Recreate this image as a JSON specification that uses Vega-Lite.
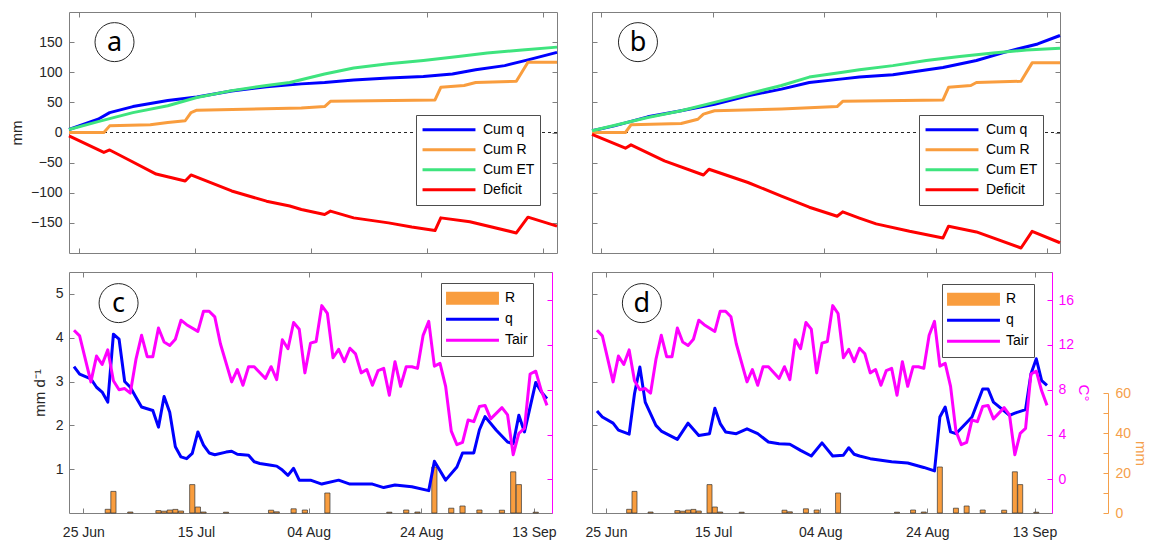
{
"$schema": "https://vega.github.io/schema/vega-lite/v6.json",
"background": "white",
"padding": {"left": 8, "top": 11, "right": 0, "bottom": 0},
"config": {
  "font": "Liberation Sans",
  "view": {"stroke": "#7f7f7f", "strokeWidth": 1},
  "axis": {"grid": false, "domain": false, "tickColor": "#7f7f7f", "tickSize": -5, "tickWidth": 1, "labelFont": "Liberation Sans", "labelFontSize": 14, "labelColor": "#262626", "labelPadding": 11, "titleFont": "Liberation Sans", "titleFontSize": 15, "titleFontWeight": "normal", "titleColor": "#262626", "labelFlush": false, "labelOverlap": false},
  "legend": {"labelFont": "Liberation Sans", "labelFontSize": 14, "labelColor": "#000000", "labelLimit": 300}
},
"datasets": {
  "cumA": [
    {"d":"2018-06-23T08:00","s":"Cum q","v":5},{"d":"2018-06-28T08:00","s":"Cum q","v":22},{"d":"2018-06-30T08:00","s":"Cum q","v":33},{"d":"2018-07-04T08:00","s":"Cum q","v":43},{"d":"2018-07-10T08:00","s":"Cum q","v":53},{"d":"2018-07-15T08:00","s":"Cum q","v":59},{"d":"2018-07-21T08:00","s":"Cum q","v":69},{"d":"2018-07-27T08:00","s":"Cum q","v":76},{"d":"2018-08-02T08:00","s":"Cum q","v":80.7},{"d":"2018-08-06T08:00","s":"Cum q","v":83},{"d":"2018-08-11T08:00","s":"Cum q","v":87},{"d":"2018-08-17T08:00","s":"Cum q","v":90.5},{"d":"2018-08-23T08:00","s":"Cum q","v":93},{"d":"2018-08-28T08:00","s":"Cum q","v":97},{"d":"2018-09-01T08:00","s":"Cum q","v":104},{"d":"2018-09-06T08:00","s":"Cum q","v":111},{"d":"2018-09-10T08:00","s":"Cum q","v":120.6},{"d":"2018-09-15T08:00","s":"Cum q","v":133},
    {"d":"2018-06-23T08:00","s":"Cum R","v":0},{"d":"2018-06-29T08:00","s":"Cum R","v":0},{"d":"2018-06-30T08:00","s":"Cum R","v":11},{"d":"2018-07-07T08:00","s":"Cum R","v":12.7},{"d":"2018-07-10T08:00","s":"Cum R","v":16.7},{"d":"2018-07-13T08:00","s":"Cum R","v":19.5},{"d":"2018-07-14T08:00","s":"Cum R","v":33},{"d":"2018-07-15T08:00","s":"Cum R","v":37},{"d":"2018-08-02T08:00","s":"Cum R","v":40.6},{"d":"2018-08-06T08:00","s":"Cum R","v":43},{"d":"2018-08-07T08:00","s":"Cum R","v":51.7},{"d":"2018-08-25T08:00","s":"Cum R","v":54},{"d":"2018-08-26T08:00","s":"Cum R","v":75},{"d":"2018-08-30T08:00","s":"Cum R","v":78},{"d":"2018-09-01T08:00","s":"Cum R","v":83},{"d":"2018-09-08T08:00","s":"Cum R","v":85},{"d":"2018-09-10T08:00","s":"Cum R","v":116.7},{"d":"2018-09-15T08:00","s":"Cum R","v":116.7},
    {"d":"2018-06-23T08:00","s":"Cum ET","v":5},{"d":"2018-06-28T08:00","s":"Cum ET","v":18},{"d":"2018-07-04T08:00","s":"Cum ET","v":33},{"d":"2018-07-10T08:00","s":"Cum ET","v":44.5},{"d":"2018-07-15T08:00","s":"Cum ET","v":58},{"d":"2018-07-21T08:00","s":"Cum ET","v":69.5},{"d":"2018-07-27T08:00","s":"Cum ET","v":78},{"d":"2018-07-31T08:00","s":"Cum ET","v":83},{"d":"2018-08-06T08:00","s":"Cum ET","v":97},{"d":"2018-08-11T08:00","s":"Cum ET","v":107},{"d":"2018-08-17T08:00","s":"Cum ET","v":114},{"d":"2018-08-23T08:00","s":"Cum ET","v":119.5},{"d":"2018-08-29T08:00","s":"Cum ET","v":126},{"d":"2018-09-03T08:00","s":"Cum ET","v":132},{"d":"2018-09-09T08:00","s":"Cum ET","v":137},{"d":"2018-09-15T08:00","s":"Cum ET","v":141.7},
    {"d":"2018-06-23T08:00","s":"Deficit","v":-5.5},{"d":"2018-06-29T08:00","s":"Deficit","v":-33},{"d":"2018-06-30T08:00","s":"Deficit","v":-29},{"d":"2018-07-03T08:00","s":"Deficit","v":-44},{"d":"2018-07-08T08:00","s":"Deficit","v":-69},{"d":"2018-07-13T08:00","s":"Deficit","v":-80.5},{"d":"2018-07-14T08:00","s":"Deficit","v":-70.5},{"d":"2018-07-21T08:00","s":"Deficit","v":-97},{"d":"2018-07-27T08:00","s":"Deficit","v":-114},{"d":"2018-07-31T08:00","s":"Deficit","v":-122},{"d":"2018-08-02T08:00","s":"Deficit","v":-127.7},{"d":"2018-08-06T08:00","s":"Deficit","v":-136},{"d":"2018-08-07T08:00","s":"Deficit","v":-130.5},{"d":"2018-08-11T08:00","s":"Deficit","v":-141.7},{"d":"2018-08-17T08:00","s":"Deficit","v":-150},{"d":"2018-08-21T08:00","s":"Deficit","v":-157},{"d":"2018-08-25T08:00","s":"Deficit","v":-162.7},{"d":"2018-08-26T08:00","s":"Deficit","v":-141.7},{"d":"2018-08-31T08:00","s":"Deficit","v":-148},{"d":"2018-09-08T08:00","s":"Deficit","v":-166.7},{"d":"2018-09-10T08:00","s":"Deficit","v":-140.5},{"d":"2018-09-15T08:00","s":"Deficit","v":-155.5}
  ],
  "cumB": [
    {"d":"2018-06-23T08:00","s":"Cum q","v":3},{"d":"2018-06-27T08:00","s":"Cum q","v":11},{"d":"2018-07-03T08:00","s":"Cum q","v":26},{"d":"2018-07-09T08:00","s":"Cum q","v":36},{"d":"2018-07-15T08:00","s":"Cum q","v":47},{"d":"2018-07-21T08:00","s":"Cum q","v":61},{"d":"2018-07-27T08:00","s":"Cum q","v":72},{"d":"2018-08-01T08:00","s":"Cum q","v":83},{"d":"2018-08-07T08:00","s":"Cum q","v":89},{"d":"2018-08-10T08:00","s":"Cum q","v":92},{"d":"2018-08-16T08:00","s":"Cum q","v":96},{"d":"2018-08-25T08:00","s":"Cum q","v":108},{"d":"2018-08-31T08:00","s":"Cum q","v":119.5},{"d":"2018-09-05T08:00","s":"Cum q","v":133},{"d":"2018-09-11T08:00","s":"Cum q","v":147},{"d":"2018-09-15T08:00","s":"Cum q","v":161},
    {"d":"2018-06-23T08:00","s":"Cum R","v":0},{"d":"2018-06-29T08:00","s":"Cum R","v":0},{"d":"2018-06-30T08:00","s":"Cum R","v":12.8},{"d":"2018-07-09T08:00","s":"Cum R","v":15},{"d":"2018-07-12T08:00","s":"Cum R","v":22},{"d":"2018-07-13T08:00","s":"Cum R","v":30.5},{"d":"2018-07-15T08:00","s":"Cum R","v":36},{"d":"2018-07-27T08:00","s":"Cum R","v":39},{"d":"2018-08-06T08:00","s":"Cum R","v":43},{"d":"2018-08-07T08:00","s":"Cum R","v":51.7},{"d":"2018-08-25T08:00","s":"Cum R","v":54},{"d":"2018-08-26T08:00","s":"Cum R","v":75},{"d":"2018-08-30T08:00","s":"Cum R","v":78},{"d":"2018-08-31T08:00","s":"Cum R","v":83},{"d":"2018-09-08T08:00","s":"Cum R","v":85},{"d":"2018-09-10T08:00","s":"Cum R","v":115.6},{"d":"2018-09-15T08:00","s":"Cum R","v":115.6},
    {"d":"2018-06-23T08:00","s":"Cum ET","v":3},{"d":"2018-07-03T08:00","s":"Cum ET","v":25},{"d":"2018-07-09T08:00","s":"Cum ET","v":36},{"d":"2018-07-15T08:00","s":"Cum ET","v":50},{"d":"2018-07-21T08:00","s":"Cum ET","v":64},{"d":"2018-07-27T08:00","s":"Cum ET","v":78},{"d":"2018-08-01T08:00","s":"Cum ET","v":92},{"d":"2018-08-07T08:00","s":"Cum ET","v":100},{"d":"2018-08-10T08:00","s":"Cum ET","v":104},{"d":"2018-08-16T08:00","s":"Cum ET","v":111},{"d":"2018-08-22T08:00","s":"Cum ET","v":119.5},{"d":"2018-08-28T08:00","s":"Cum ET","v":126},{"d":"2018-09-03T08:00","s":"Cum ET","v":132},{"d":"2018-09-09T08:00","s":"Cum ET","v":137},{"d":"2018-09-15T08:00","s":"Cum ET","v":140},
    {"d":"2018-06-23T08:00","s":"Deficit","v":-3},{"d":"2018-06-29T08:00","s":"Deficit","v":-26},{"d":"2018-06-30T08:00","s":"Deficit","v":-20.5},{"d":"2018-07-06T08:00","s":"Deficit","v":-47},{"d":"2018-07-13T08:00","s":"Deficit","v":-70.5},{"d":"2018-07-14T08:00","s":"Deficit","v":-61},{"d":"2018-07-21T08:00","s":"Deficit","v":-83},{"d":"2018-07-27T08:00","s":"Deficit","v":-105.5},{"d":"2018-08-01T08:00","s":"Deficit","v":-124},{"d":"2018-08-06T08:00","s":"Deficit","v":-139},{"d":"2018-08-07T08:00","s":"Deficit","v":-131.7},{"d":"2018-08-10T08:00","s":"Deficit","v":-142},{"d":"2018-08-13T08:00","s":"Deficit","v":-151.7},{"d":"2018-08-19T08:00","s":"Deficit","v":-164},{"d":"2018-08-25T08:00","s":"Deficit","v":-175},{"d":"2018-08-26T08:00","s":"Deficit","v":-155.5},{"d":"2018-08-31T08:00","s":"Deficit","v":-165},{"d":"2018-09-08T08:00","s":"Deficit","v":-191.7},{"d":"2018-09-10T08:00","s":"Deficit","v":-164},{"d":"2018-09-15T08:00","s":"Deficit","v":-183}
  ],
  "rain": [
    {"d":"2018-06-29T08:00","r":1.85},{"d":"2018-06-30T08:00","r":10.8},{"d":"2018-07-03T08:00","r":0.5},{"d":"2018-07-08T08:00","r":1.2},{"d":"2018-07-09T08:00","r":0.9},{"d":"2018-07-10T08:00","r":1.5},{"d":"2018-07-11T08:00","r":1.8},{"d":"2018-07-12T08:00","r":1.0},{"d":"2018-07-14T08:00","r":14.2},{"d":"2018-07-15T08:00","r":3.0},{"d":"2018-07-16T08:00","r":0.5},{"d":"2018-07-20T08:00","r":0.4},{"d":"2018-07-28T08:00","r":1.4},{"d":"2018-07-29T08:00","r":0.6},{"d":"2018-08-01T08:00","r":2.1},{"d":"2018-08-03T08:00","r":1.5},{"d":"2018-08-07T08:00","r":10.0},{"d":"2018-08-18T08:00","r":0.4},{"d":"2018-08-21T08:00","r":1.5},{"d":"2018-08-23T08:00","r":0.5},{"d":"2018-08-26T08:00","r":23.0},{"d":"2018-08-29T08:00","r":2.4},{"d":"2018-08-31T08:00","r":3.5},{"d":"2018-09-03T08:00","r":1.5},{"d":"2018-09-07T08:00","r":1.4},{"d":"2018-09-09T08:00","r":20.6},{"d":"2018-09-10T08:00","r":14.2},{"d":"2018-09-13T08:00","r":0.4}
  ],
  "qc": [
    {"d":"2018-06-23T08:00","q":3.34},{"d":"2018-06-24T08:00","q":3.17},{"d":"2018-06-26T08:00","q":3.06},{"d":"2018-06-27T08:00","q":2.87},{"d":"2018-06-28T08:00","q":2.76},{"d":"2018-06-29T08:00","q":2.53},{"d":"2018-06-30T08:00","q":4.08},{"d":"2018-07-01T08:00","q":3.97},{"d":"2018-07-02T08:00","q":3.0},{"d":"2018-07-03T08:00","q":2.87},{"d":"2018-07-04T08:00","q":2.64},{"d":"2018-07-05T08:00","q":2.42},{"d":"2018-07-07T08:00","q":2.34},{"d":"2018-07-08T08:00","q":1.96},{"d":"2018-07-09T08:00","q":2.66},{"d":"2018-07-10T08:00","q":2.3},{"d":"2018-07-11T08:00","q":1.51},{"d":"2018-07-12T08:00","q":1.28},{"d":"2018-07-13T08:00","q":1.24},{"d":"2018-07-14T08:00","q":1.36},{"d":"2018-07-15T08:00","q":1.85},{"d":"2018-07-16T08:00","q":1.55},{"d":"2018-07-17T08:00","q":1.37},{"d":"2018-07-18T08:00","q":1.33},{"d":"2018-07-20T08:00","q":1.39},{"d":"2018-07-21T08:00","q":1.41},{"d":"2018-07-22T08:00","q":1.34},{"d":"2018-07-24T08:00","q":1.32},{"d":"2018-07-25T08:00","q":1.17},{"d":"2018-07-26T08:00","q":1.13},{"d":"2018-07-28T08:00","q":1.09},{"d":"2018-07-29T08:00","q":1.07},{"d":"2018-07-30T08:00","q":0.98},{"d":"2018-07-31T08:00","q":0.86},{"d":"2018-08-01T08:00","q":1.02},{"d":"2018-08-02T08:00","q":0.75},{"d":"2018-08-04T08:00","q":0.75},{"d":"2018-08-06T08:00","q":0.66},{"d":"2018-08-09T08:00","q":0.75},{"d":"2018-08-11T08:00","q":0.66},{"d":"2018-08-15T08:00","q":0.66},{"d":"2018-08-17T08:00","q":0.58},{"d":"2018-08-19T08:00","q":0.64},{"d":"2018-08-22T08:00","q":0.6},{"d":"2018-08-25T08:00","q":0.51},{"d":"2018-08-26T08:00","q":1.18},{"d":"2018-08-28T08:00","q":0.75},{"d":"2018-08-30T08:00","q":1.05},{"d":"2018-08-31T08:00","q":1.37},{"d":"2018-09-02T08:00","q":1.37},{"d":"2018-09-03T08:00","q":1.9},{"d":"2018-09-04T08:00","q":2.2},{"d":"2018-09-06T08:00","q":1.89},{"d":"2018-09-08T08:00","q":1.62},{"d":"2018-09-09T08:00","q":1.58},{"d":"2018-09-10T08:00","q":2.23},{"d":"2018-09-11T08:00","q":1.85},{"d":"2018-09-13T08:00","q":2.98},{"d":"2018-09-14T08:00","q":2.76},{"d":"2018-09-15T08:00","q":2.61}
  ],
  "qd": [
    {"d":"2018-06-23T08:00","q":2.33},{"d":"2018-06-24T08:00","q":2.19},{"d":"2018-06-26T08:00","q":2.05},{"d":"2018-06-27T08:00","q":1.89},{"d":"2018-06-29T08:00","q":1.8},{"d":"2018-06-30T08:00","q":2.72},{"d":"2018-07-01T08:00","q":3.33},{"d":"2018-07-02T08:00","q":2.53},{"d":"2018-07-04T08:00","q":2.0},{"d":"2018-07-05T08:00","q":1.87},{"d":"2018-07-08T08:00","q":1.68},{"d":"2018-07-10T08:00","q":2.05},{"d":"2018-07-12T08:00","q":1.77},{"d":"2018-07-14T08:00","q":1.81},{"d":"2018-07-15T08:00","q":2.39},{"d":"2018-07-16T08:00","q":2.04},{"d":"2018-07-17T08:00","q":1.85},{"d":"2018-07-19T08:00","q":1.81},{"d":"2018-07-21T08:00","q":1.92},{"d":"2018-07-23T08:00","q":1.81},{"d":"2018-07-25T08:00","q":1.62},{"d":"2018-07-27T08:00","q":1.58},{"d":"2018-07-29T08:00","q":1.57},{"d":"2018-07-31T08:00","q":1.43},{"d":"2018-08-02T08:00","q":1.3},{"d":"2018-08-04T08:00","q":1.6},{"d":"2018-08-06T08:00","q":1.3},{"d":"2018-08-08T08:00","q":1.32},{"d":"2018-08-09T08:00","q":1.49},{"d":"2018-08-10T08:00","q":1.34},{"d":"2018-08-11T08:00","q":1.3},{"d":"2018-08-13T08:00","q":1.24},{"d":"2018-08-17T08:00","q":1.17},{"d":"2018-08-20T08:00","q":1.14},{"d":"2018-08-23T08:00","q":1.04},{"d":"2018-08-25T08:00","q":0.96},{"d":"2018-08-26T08:00","q":2.19},{"d":"2018-08-27T08:00","q":2.42},{"d":"2018-08-28T08:00","q":1.85},{"d":"2018-08-29T08:00","q":1.81},{"d":"2018-09-01T08:00","q":2.19},{"d":"2018-09-03T08:00","q":2.83},{"d":"2018-09-04T08:00","q":2.83},{"d":"2018-09-05T08:00","q":2.53},{"d":"2018-09-08T08:00","q":2.23},{"d":"2018-09-09T08:00","q":2.28},{"d":"2018-09-11T08:00","q":2.36},{"d":"2018-09-12T08:00","q":3.17},{"d":"2018-09-13T08:00","q":3.52},{"d":"2018-09-14T08:00","q":3.02},{"d":"2018-09-15T08:00","q":2.91}
  ],
  "tair": [
    {"d":"2018-06-23T08:00","t":13.3},{"d":"2018-06-24T08:00","t":12.8},{"d":"2018-06-26T08:00","t":8.7},{"d":"2018-06-27T08:00","t":11.0},{"d":"2018-06-28T08:00","t":10.25},{"d":"2018-06-29T08:00","t":11.55},{"d":"2018-06-30T08:00","t":8.8},{"d":"2018-07-01T08:00","t":8.0},{"d":"2018-07-02T08:00","t":8.1},{"d":"2018-07-03T08:00","t":7.7},{"d":"2018-07-04T08:00","t":10.7},{"d":"2018-07-05T08:00","t":12.85},{"d":"2018-07-06T08:00","t":10.95},{"d":"2018-07-07T08:00","t":10.95},{"d":"2018-07-08T08:00","t":13.5},{"d":"2018-07-09T08:00","t":12.25},{"d":"2018-07-10T08:00","t":11.95},{"d":"2018-07-11T08:00","t":12.5},{"d":"2018-07-12T08:00","t":14.2},{"d":"2018-07-13T08:00","t":13.8},{"d":"2018-07-15T08:00","t":13.2},{"d":"2018-07-16T08:00","t":15.0},{"d":"2018-07-17T08:00","t":15.0},{"d":"2018-07-18T08:00","t":14.5},{"d":"2018-07-19T08:00","t":12.1},{"d":"2018-07-21T08:00","t":8.7},{"d":"2018-07-22T08:00","t":9.8},{"d":"2018-07-23T08:00","t":8.4},{"d":"2018-07-24T08:00","t":10.05},{"d":"2018-07-25T08:00","t":10.05},{"d":"2018-07-27T08:00","t":9.0},{"d":"2018-07-28T08:00","t":10.05},{"d":"2018-07-29T08:00","t":8.9},{"d":"2018-07-30T08:00","t":12.45},{"d":"2018-07-31T08:00","t":11.65},{"d":"2018-08-01T08:00","t":14.0},{"d":"2018-08-02T08:00","t":13.4},{"d":"2018-08-03T08:00","t":9.5},{"d":"2018-08-04T08:00","t":12.15},{"d":"2018-08-05T08:00","t":12.3},{"d":"2018-08-06T08:00","t":15.5},{"d":"2018-08-07T08:00","t":14.8},{"d":"2018-08-08T08:00","t":10.85},{"d":"2018-08-09T08:00","t":11.6},{"d":"2018-08-10T08:00","t":10.5},{"d":"2018-08-11T08:00","t":11.7},{"d":"2018-08-12T08:00","t":11.2},{"d":"2018-08-13T08:00","t":9.5},{"d":"2018-08-14T08:00","t":9.8},{"d":"2018-08-15T08:00","t":8.4},{"d":"2018-08-16T08:00","t":9.7},{"d":"2018-08-17T08:00","t":9.9},{"d":"2018-08-18T08:00","t":7.5},{"d":"2018-08-19T08:00","t":10.5},{"d":"2018-08-20T08:00","t":8.3},{"d":"2018-08-21T08:00","t":10.05},{"d":"2018-08-22T08:00","t":10.05},{"d":"2018-08-23T08:00","t":9.9},{"d":"2018-08-24T08:00","t":12.85},{"d":"2018-08-25T08:00","t":14.1},{"d":"2018-08-26T08:00","t":10.1},{"d":"2018-08-27T08:00","t":10.35},{"d":"2018-08-28T08:00","t":8.3},{"d":"2018-08-29T08:00","t":4.3},{"d":"2018-08-30T08:00","t":3.1},{"d":"2018-08-31T08:00","t":3.3},{"d":"2018-09-01T08:00","t":5.3},{"d":"2018-09-02T08:00","t":5.15},{"d":"2018-09-03T08:00","t":6.5},{"d":"2018-09-04T08:00","t":6.6},{"d":"2018-09-05T08:00","t":5.4},{"d":"2018-09-07T08:00","t":6.4},{"d":"2018-09-08T08:00","t":5.75},{"d":"2018-09-09T08:00","t":2.2},{"d":"2018-09-10T08:00","t":4.1},{"d":"2018-09-11T08:00","t":4.55},{"d":"2018-09-12T08:00","t":9.4},{"d":"2018-09-13T08:00","t":9.65},{"d":"2018-09-14T08:00","t":7.9},{"d":"2018-09-15T08:00","t":6.6}
  ],
  "legendKeys": [{"s":"R"},{"s":"q"},{"s":"Tair"}]
},
"vconcat": [
  {"hconcat": [
    {"width": 488, "height": 241,
     "resolve": {"axis": {"x": "independent", "y": "independent"}},
     "layer": [
      {"data": {"values": [{}]}, "mark": {"type": "rule", "strokeDash": [3, 3], "color": "#262626", "strokeWidth": 1},
       "encoding": {"y": {"datum": 0, "type": "quantitative", "scale": {"domain": [-200, 200]}, "axis": null}}},
      {"data": {"name": "cumA"}, "mark": {"type": "line", "strokeWidth": 3, "strokeJoin": "round"},
       "encoding": {
        "x": {"field": "d", "type": "temporal", "scale": {"domain": [{"year":2018,"month":6,"date":23,"hours":8},{"year":2018,"month":9,"date":15,"hours":8}]}, "axis": {"orient": "bottom", "values": [{"year":2018,"month":6,"date":25},{"year":2018,"month":7,"date":15},{"year":2018,"month":8,"date":4},{"year":2018,"month":8,"date":24},{"year":2018,"month":9,"date":13}], "labels": false, "title": null}},
        "y": {"field": "v", "type": "quantitative", "scale": {"domain": [-200, 200]}, "axis": {"orient": "left", "values": [-150,-100,-50,0,50,100,150], "title": "mm", "labelPadding": 12, "titlePadding": 6}},
        "color": {"field": "s", "type": "nominal", "scale": {"domain": ["Cum q","Cum R","Cum ET","Deficit"], "range": ["#0000ff","#f99d3e","#3ee47e","#ff0000"]},
          "legend": {"orient": "none", "legendX": 347, "legendY": 103, "title": null, "direction": "vertical", "symbolType": "stroke", "symbolSize": 2800, "symbolStrokeWidth": 3, "clipHeight": 19.7, "rowPadding": 0, "padding": 5, "labelOffset": 6, "strokeColor": "#4d4d4d", "fillColor": "#ffffff"}}
       }},
      {"data": {"values": [{"d": "2018-07-01T04:00", "v": 150, "lab": "a"}]}, "mark": {"type": "point", "shape": "circle", "size": 1521, "filled": false, "stroke": "#262626", "strokeWidth": 1, "opacity": 1},
       "encoding": {
        "x": {"field": "d", "type": "temporal", "scale": {"domain": [{"year":2018,"month":6,"date":23,"hours":8},{"year":2018,"month":9,"date":15,"hours":8}]}, "axis": {"orient": "top", "values": [{"year":2018,"month":6,"date":25},{"year":2018,"month":7,"date":15},{"year":2018,"month":8,"date":4},{"year":2018,"month":8,"date":24},{"year":2018,"month":9,"date":13}], "labels": false, "title": null}},
        "y": {"field": "v", "type": "quantitative", "scale": {"domain": [-200, 200]}, "axis": {"orient": "right", "values": [-150,-100,-50,0,50,100,150], "labels": false, "title": null}}
       }},
      {"data": {"values": [{"d": "2018-07-01T04:00", "v": 150, "lab": "a"}]}, "mark": {"type": "text", "font": "Noto Sans", "fontSize": 27, "baseline": "alphabetic", "align": "center", "dy": 9, "color": "#000000"},
       "encoding": {
        "x": {"field": "d", "type": "temporal", "scale": {"domain": [{"year":2018,"month":6,"date":23,"hours":8},{"year":2018,"month":9,"date":15,"hours":8}]}, "axis": null},
        "y": {"field": "v", "type": "quantitative", "scale": {"domain": [-200, 200]}, "axis": null},
        "text": {"field": "lab"}
       }}
     ]},
    {"width": 468, "height": 241,
     "resolve": {"axis": {"x": "independent", "y": "independent"}},
     "layer": [
      {"data": {"values": [{}]}, "mark": {"type": "rule", "strokeDash": [3, 3], "color": "#262626", "strokeWidth": 1},
       "encoding": {"y": {"datum": 0, "type": "quantitative", "scale": {"domain": [-200, 200]}, "axis": null}}},
      {"data": {"name": "cumB"}, "mark": {"type": "line", "strokeWidth": 3, "strokeJoin": "round"},
       "encoding": {
        "x": {"field": "d", "type": "temporal", "scale": {"domain": [{"year":2018,"month":6,"date":23,"hours":8},{"year":2018,"month":9,"date":15,"hours":8}]}, "axis": {"orient": "bottom", "values": [{"year":2018,"month":6,"date":25},{"year":2018,"month":7,"date":15},{"year":2018,"month":8,"date":4},{"year":2018,"month":8,"date":24},{"year":2018,"month":9,"date":13}], "labels": false, "title": null}},
        "y": {"field": "v", "type": "quantitative", "scale": {"domain": [-200, 200]}, "axis": {"orient": "left", "values": [-150,-100,-50,0,50,100,150], "labels": false, "title": null}},
        "color": {"field": "s", "type": "nominal", "scale": {"domain": ["Cum q","Cum R","Cum ET","Deficit"], "range": ["#0000ff","#f99d3e","#3ee47e","#ff0000"]},
          "legend": {"orient": "none", "legendX": 327, "legendY": 103, "title": null, "direction": "vertical", "symbolType": "stroke", "symbolSize": 2800, "symbolStrokeWidth": 3, "clipHeight": 19.7, "rowPadding": 0, "padding": 5, "labelOffset": 6, "strokeColor": "#4d4d4d", "fillColor": "#ffffff"}}
       }},
      {"data": {"values": [{"d": "2018-07-01T14:00", "v": 150, "lab": "b"}]}, "mark": {"type": "point", "shape": "circle", "size": 1521, "filled": false, "stroke": "#262626", "strokeWidth": 1, "opacity": 1},
       "encoding": {
        "x": {"field": "d", "type": "temporal", "scale": {"domain": [{"year":2018,"month":6,"date":23,"hours":8},{"year":2018,"month":9,"date":15,"hours":8}]}, "axis": {"orient": "top", "values": [{"year":2018,"month":6,"date":25},{"year":2018,"month":7,"date":15},{"year":2018,"month":8,"date":4},{"year":2018,"month":8,"date":24},{"year":2018,"month":9,"date":13}], "labels": false, "title": null}},
        "y": {"field": "v", "type": "quantitative", "scale": {"domain": [-200, 200]}, "axis": {"orient": "right", "values": [-150,-100,-50,0,50,100,150], "labels": false, "title": null}}
       }},
      {"data": {"values": [{"d": "2018-07-01T14:00", "v": 150, "lab": "b"}]}, "mark": {"type": "text", "font": "Noto Sans", "fontSize": 27, "baseline": "alphabetic", "align": "center", "dy": 9, "color": "#000000"},
       "encoding": {
        "x": {"field": "d", "type": "temporal", "scale": {"domain": [{"year":2018,"month":6,"date":23,"hours":8},{"year":2018,"month":9,"date":15,"hours":8}]}, "axis": null},
        "y": {"field": "v", "type": "quantitative", "scale": {"domain": [-200, 200]}, "axis": null},
        "text": {"field": "lab"}
       }}
     ]}
  ], "spacing": 35, "bounds": "flush",
  "resolve": {"scale": {"x": "independent", "y": "independent", "color": "independent"}, "legend": {"color": "independent"}}},
  {"hconcat": [
    {"width": 483, "height": 241,
     "resolve": {"scale": {"y": "independent"}, "axis": {"x": "independent", "y": "independent"}},
     "layer": [
      {"data": {"name": "rain"}, "mark": {"type": "bar", "width": 5.2, "fill": "#f99d3e", "stroke": "#333333", "strokeWidth": 0.7},
       "encoding": {
        "x": {"field": "d", "type": "temporal", "scale": {"domain": [{"year":2018,"month":6,"date":23,"hours":8},{"year":2018,"month":9,"date":15,"hours":8}]}, "axis": {"orient": "bottom", "values": [{"year":2018,"month":6,"date":25},{"year":2018,"month":7,"date":15},{"year":2018,"month":8,"date":4},{"year":2018,"month":8,"date":24},{"year":2018,"month":9,"date":13}], "format": "%d %b", "labelPadding": 17, "title": null}},
        "y": {"field": "r", "type": "quantitative", "scale": {"domain": [0, 60], "range": [241, 121]}, "axis": null}
       }},
      {"data": {"name": "qc"}, "mark": {"type": "line", "strokeWidth": 3, "strokeJoin": "round", "color": "#0000ff"},
       "encoding": {
        "x": {"field": "d", "type": "temporal", "scale": {"domain": [{"year":2018,"month":6,"date":23,"hours":8},{"year":2018,"month":9,"date":15,"hours":8}]}, "axis": {"orient": "top", "values": [{"year":2018,"month":6,"date":25},{"year":2018,"month":7,"date":15},{"year":2018,"month":8,"date":4},{"year":2018,"month":8,"date":24},{"year":2018,"month":9,"date":13}], "labels": false, "title": null}},
        "y": {"field": "q", "type": "quantitative", "scale": {"domain": [0, 5.5]}, "axis": {"orient": "left", "values": [1,2,3,4,5], "title": "mm d⁻¹", "labelPadding": 11, "titlePadding": 8}}
       }},
      {"data": {"name": "tair"}, "mark": {"type": "line", "strokeWidth": 3, "strokeJoin": "round", "color": "#ff00ff"},
       "encoding": {
        "x": {"field": "d", "type": "temporal", "scale": {"domain": [{"year":2018,"month":6,"date":23,"hours":8},{"year":2018,"month":9,"date":15,"hours":8}]}, "axis": null},
        "y": {"field": "t", "type": "quantitative", "scale": {"domain": [-3, 18.5]}, "axis": {"orient": "right", "values": [0,4,8,12,16], "labels": false, "domain": true, "domainColor": "#ff00ff", "tickColor": "#ff00ff", "title": null}}
       }},
      {"data": {"name": "legendKeys"}, "mark": {"type": "point", "filled": true, "opacity": 0},
       "encoding": {
        "color": {"field": "s", "type": "nominal", "scale": {"domain": ["R","q","Tair"], "range": ["#f99d3e","#0000ff","#ff00ff"]},
          "legend": {"orient": "none", "legendX": 372, "legendY": 11, "title": null, "direction": "vertical", "symbolSize": 2800, "symbolStrokeWidth": 0, "symbolOpacity": 1, "clipHeight": 20.5, "rowPadding": 0, "padding": 5, "labelOffset": 6, "strokeColor": "#4d4d4d", "fillColor": "#ffffff"}},
        "shape": {"field": "s", "type": "nominal", "scale": {"domain": ["R","q","Tair"], "range": ["M-1,-0.25H1V0.25H-1Z","M-1,-0.057H1V0.057H-1Z","M-1,-0.057H1V0.057H-1Z"]},
          "legend": {"orient": "none", "legendX": 372, "legendY": 11, "title": null, "direction": "vertical", "symbolSize": 2800, "symbolStrokeWidth": 0, "symbolOpacity": 1, "clipHeight": 20.5, "rowPadding": 0, "padding": 5, "labelOffset": 6, "strokeColor": "#4d4d4d", "fillColor": "#ffffff"}}
       }},
      {"data": {"values": [{"d": "2018-07-01T06:00", "v": 4.79, "lab": "c"}]}, "mark": {"type": "point", "shape": "circle", "size": 1521, "filled": false, "stroke": "#262626", "strokeWidth": 1, "opacity": 1},
       "encoding": {
        "x": {"field": "d", "type": "temporal", "scale": {"domain": [{"year":2018,"month":6,"date":23,"hours":8},{"year":2018,"month":9,"date":15,"hours":8}]}, "axis": null},
        "y": {"field": "v", "type": "quantitative", "scale": {"domain": [0, 5.5]}, "axis": null}
       }},
      {"data": {"values": [{"d": "2018-07-01T06:00", "v": 4.79, "lab": "c"}]}, "mark": {"type": "text", "font": "Noto Sans", "fontSize": 27, "baseline": "alphabetic", "align": "center", "dy": 9, "color": "#000000"},
       "encoding": {
        "x": {"field": "d", "type": "temporal", "scale": {"domain": [{"year":2018,"month":6,"date":23,"hours":8},{"year":2018,"month":9,"date":15,"hours":8}]}, "axis": null},
        "y": {"field": "v", "type": "quantitative", "scale": {"domain": [0, 5.5]}, "axis": null},
        "text": {"field": "lab"}
       }}
     ]},
    {"width": 460, "height": 241,
     "resolve": {"scale": {"y": "independent"}, "axis": {"x": "independent", "y": "independent"}},
     "layer": [
      {"data": {"name": "rain"}, "mark": {"type": "bar", "width": 5, "fill": "#f99d3e", "stroke": "#333333", "strokeWidth": 0.7},
       "encoding": {
        "x": {"field": "d", "type": "temporal", "scale": {"domain": [{"year":2018,"month":6,"date":23,"hours":8},{"year":2018,"month":9,"date":15,"hours":8}]}, "axis": {"orient": "bottom", "values": [{"year":2018,"month":6,"date":25},{"year":2018,"month":7,"date":15},{"year":2018,"month":8,"date":4},{"year":2018,"month":8,"date":24},{"year":2018,"month":9,"date":13}], "format": "%d %b", "labelPadding": 17, "title": null}},
        "y": {"field": "r", "type": "quantitative", "scale": {"domain": [0, 60], "range": [241, 121]}, "axis": {"orient": "right", "offset": 56, "values": [0,10,20,30,40,50,60], "labelExpr": "datum.value % 20 === 0 ? datum.label : ''", "domain": true, "domainColor": "#f5a04a", "tickColor": "#f5a04a", "labelColor": "#f5a04a", "title": "mm", "titleColor": "#f5a04a", "labelPadding": 12, "titlePadding": 2}}
       }},
      {"data": {"name": "qd"}, "mark": {"type": "line", "strokeWidth": 3, "strokeJoin": "round", "color": "#0000ff"},
       "encoding": {
        "x": {"field": "d", "type": "temporal", "scale": {"domain": [{"year":2018,"month":6,"date":23,"hours":8},{"year":2018,"month":9,"date":15,"hours":8}]}, "axis": {"orient": "top", "values": [{"year":2018,"month":6,"date":25},{"year":2018,"month":7,"date":15},{"year":2018,"month":8,"date":4},{"year":2018,"month":8,"date":24},{"year":2018,"month":9,"date":13}], "labels": false, "title": null}},
        "y": {"field": "q", "type": "quantitative", "scale": {"domain": [0, 5.5]}, "axis": {"orient": "left", "values": [1,2,3,4,5], "labels": false, "title": null}}
       }},
      {"data": {"name": "tair"}, "mark": {"type": "line", "strokeWidth": 3, "strokeJoin": "round", "color": "#ff00ff"},
       "encoding": {
        "x": {"field": "d", "type": "temporal", "scale": {"domain": [{"year":2018,"month":6,"date":23,"hours":8},{"year":2018,"month":9,"date":15,"hours":8}]}, "axis": null},
        "y": {"field": "t", "type": "quantitative", "scale": {"domain": [-3, 18.5]}, "axis": {"orient": "right", "values": [0,4,8,12,16], "domain": true, "domainColor": "#ff00ff", "tickColor": "#ff00ff", "labelColor": "#ff00ff", "labelPadding": 11, "title": "C°", "titleColor": "#ff00ff", "titlePadding": 2}}
       }},
      {"data": {"name": "legendKeys"}, "mark": {"type": "point", "filled": true, "opacity": 0},
       "encoding": {
        "color": {"field": "s", "type": "nominal", "scale": {"domain": ["R","q","Tair"], "range": ["#f99d3e","#0000ff","#ff00ff"]},
          "legend": {"orient": "none", "legendX": 350, "legendY": 12, "title": null, "direction": "vertical", "symbolSize": 2800, "symbolStrokeWidth": 0, "symbolOpacity": 1, "clipHeight": 20.5, "rowPadding": 0, "padding": 5, "labelOffset": 6, "strokeColor": "#4d4d4d", "fillColor": "#ffffff"}},
        "shape": {"field": "s", "type": "nominal", "scale": {"domain": ["R","q","Tair"], "range": ["M-1,-0.25H1V0.25H-1Z","M-1,-0.057H1V0.057H-1Z","M-1,-0.057H1V0.057H-1Z"]},
          "legend": {"orient": "none", "legendX": 350, "legendY": 12, "title": null, "direction": "vertical", "symbolSize": 2800, "symbolStrokeWidth": 0, "symbolOpacity": 1, "clipHeight": 20.5, "rowPadding": 0, "padding": 5, "labelOffset": 6, "strokeColor": "#4d4d4d", "fillColor": "#ffffff"}}
       }},
      {"data": {"values": [{"d": "2018-07-01T17:00", "v": 4.79, "lab": "d"}]}, "mark": {"type": "point", "shape": "circle", "size": 1521, "filled": false, "stroke": "#262626", "strokeWidth": 1, "opacity": 1},
       "encoding": {
        "x": {"field": "d", "type": "temporal", "scale": {"domain": [{"year":2018,"month":6,"date":23,"hours":8},{"year":2018,"month":9,"date":15,"hours":8}]}, "axis": null},
        "y": {"field": "v", "type": "quantitative", "scale": {"domain": [0, 5.5]}, "axis": null}
       }},
      {"data": {"values": [{"d": "2018-07-01T17:00", "v": 4.79, "lab": "d"}]}, "mark": {"type": "text", "font": "Noto Sans", "fontSize": 27, "baseline": "alphabetic", "align": "center", "dy": 9, "color": "#000000"},
       "encoding": {
        "x": {"field": "d", "type": "temporal", "scale": {"domain": [{"year":2018,"month":6,"date":23,"hours":8},{"year":2018,"month":9,"date":15,"hours":8}]}, "axis": null},
        "y": {"field": "v", "type": "quantitative", "scale": {"domain": [0, 5.5]}, "axis": null},
        "text": {"field": "lab"}
       }}
     ]}
  ], "spacing": 40, "bounds": "flush",
  "resolve": {"scale": {"x": "independent", "y": "independent", "color": "independent", "shape": "independent"}, "legend": {"color": "independent", "shape": "independent"}}}
],
"spacing": 17,
"bounds": "full",
"resolve": {"scale": {"x": "independent", "y": "independent", "color": "independent", "shape": "independent"}, "legend": {"color": "independent", "shape": "independent"}}
}
